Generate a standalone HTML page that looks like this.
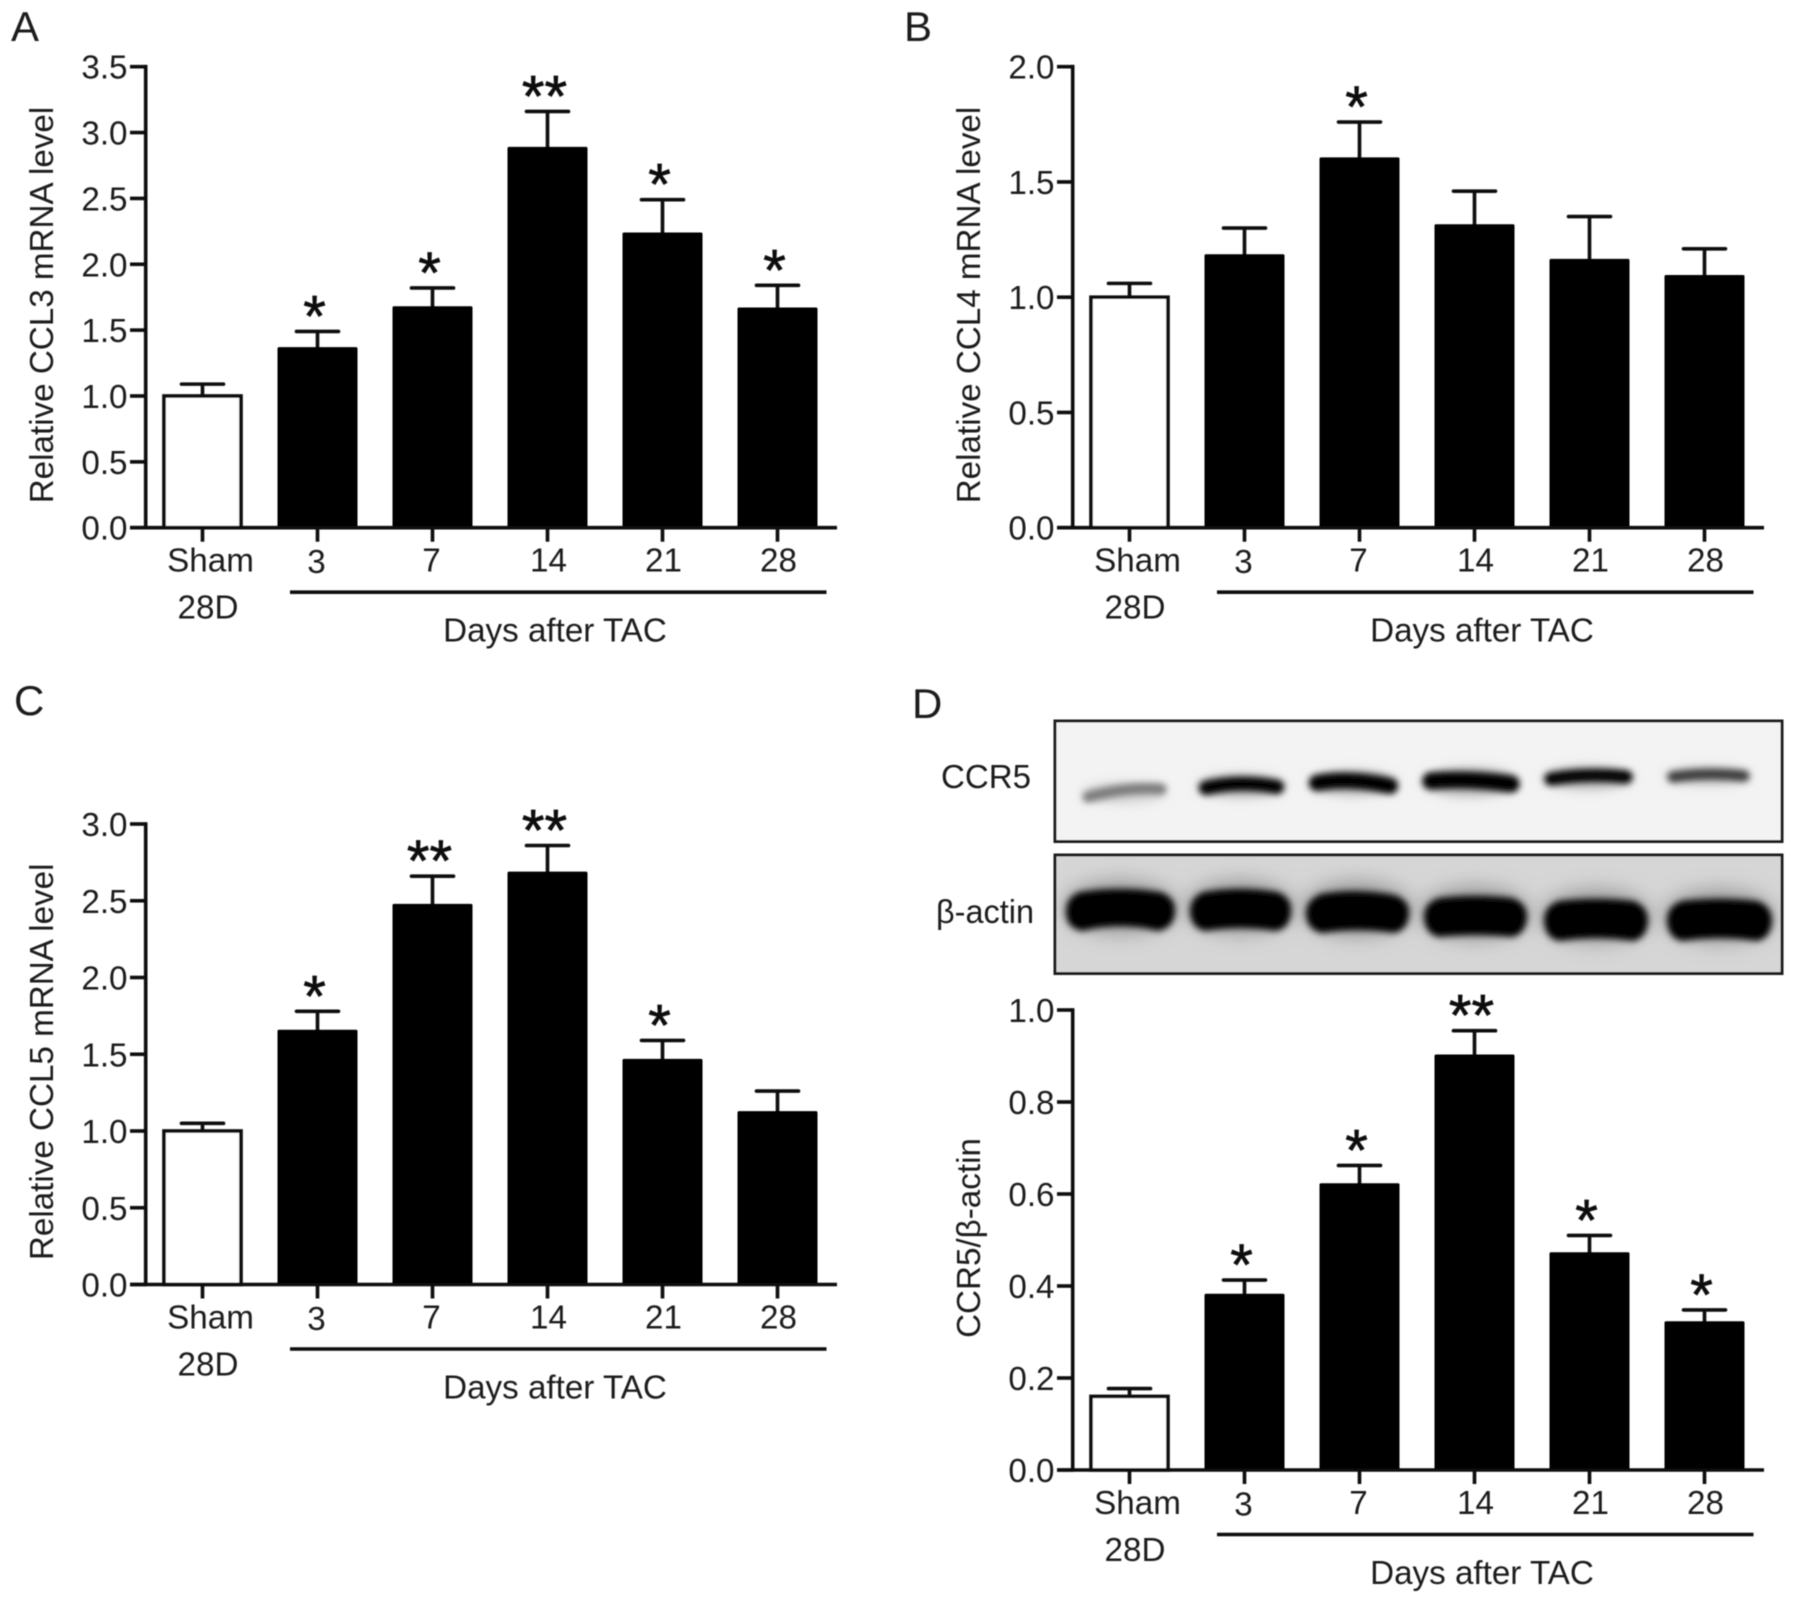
<!DOCTYPE html>
<html lang="en">
<head>
<meta charset="utf-8">
<title>CCL3, CCL4, CCL5 and CCR5 expression after TAC</title>
<style>
  html, body { margin: 0; padding: 0; background: #fff; }
  svg { display: block; }
  text { font-family: "Liberation Sans", "DejaVu Sans", sans-serif; fill: #1c1c1c; }
</style>
</head>
<body>
<svg id="figure" xmlns="http://www.w3.org/2000/svg" width="1795" height="1604" viewBox="0 0 1795 1604">
  <defs>
    <filter id="soft" x="-5%" y="-5%" width="110%" height="110%"><feGaussianBlur stdDeviation="0.55"/></filter>
    <filter id="b3" x="-30%" y="-100%" width="160%" height="300%"><feGaussianBlur stdDeviation="3.4"/></filter>
    <filter id="b4" x="-30%" y="-100%" width="160%" height="300%"><feGaussianBlur stdDeviation="5"/></filter>
    <filter id="b12" x="-30%" y="-100%" width="160%" height="300%"><feGaussianBlur stdDeviation="11"/></filter>
    <clipPath id="clip-ccr5"><rect x="1056" y="722" width="725" height="119"/></clipPath>
    <clipPath id="clip-actin"><rect x="1056" y="856" width="725" height="117"/></clipPath>
  </defs>
  <rect x="0" y="0" width="1795" height="1604" fill="#fff"/>
  <g id="root" filter="url(#soft)">
    <g>
      <rect x="1055" y="721" width="727" height="120.5" fill="#f3f3f3" stroke="#1a1a1a" stroke-width="3"/>
      <g clip-path="url(#clip-ccr5)">
        <g filter="url(#b4)" fill="#bbb">
          <ellipse cx="1124" cy="793" rx="42" ry="11" fill="#d5d5d5"/>
          <ellipse cx="1241" cy="786" rx="44" ry="12"/>
          <ellipse cx="1353" cy="783" rx="44" ry="13"/>
          <ellipse cx="1470" cy="782" rx="48" ry="15"/>
          <ellipse cx="1588" cy="778" rx="45" ry="12"/>
          <ellipse cx="1708" cy="776" rx="43" ry="10" fill="#ccc"/>
        </g>
        <g filter="url(#b3)">
          <path d="M1088 797 Q1125 787 1161 789" fill="none" stroke="#7a7a7a" stroke-width="11" stroke-linecap="round"/>
          <path d="M1206 788 Q1240 780 1277 787" fill="none" stroke="#000" stroke-width="14" stroke-linecap="round"/>
          <path d="M1317 783 Q1350 777 1390 786" fill="none" stroke="#000" stroke-width="16" stroke-linecap="round"/>
          <path d="M1431 781 Q1470 778 1511 784" fill="none" stroke="#000" stroke-width="17" stroke-linecap="round"/>
          <path d="M1551 779 Q1588 773 1626 777" fill="none" stroke="#050505" stroke-width="13" stroke-linecap="round"/>
          <path d="M1673 777 Q1708 772 1744 776" fill="none" stroke="#3a3a3a" stroke-width="11" stroke-linecap="round"/>
        </g>
      </g>
    </g>
    <g>
      <rect x="1055" y="855" width="727" height="118.5" fill="#d6d6d6" stroke="#1a1a1a" stroke-width="3"/>
      <g clip-path="url(#clip-actin)">
        <g filter="url(#b12)" fill="#8a8a8a">
          <ellipse cx="1120" cy="907" rx="55" ry="24"/>
          <ellipse cx="1240" cy="907" rx="52" ry="24"/>
          <ellipse cx="1357" cy="909" rx="53" ry="25"/>
          <ellipse cx="1475" cy="913" rx="53" ry="24"/>
          <ellipse cx="1596" cy="916" rx="53" ry="24"/>
          <ellipse cx="1719" cy="916" rx="54" ry="24"/>
        </g>
        <g filter="url(#b3)" fill="#000">
          <path d="M1080 892 Q1120 886 1160 892 Q1176 897 1175 912 Q1174 928 1158 931 Q1120 921 1082 931 Q1066 928 1066 912 Q1066 897 1080 892Z"/>
          <path d="M1204 892 Q1240 886 1277 892 Q1292 897 1291 912 Q1290 928 1276 931 Q1240 925 1205 931 Q1191 928 1190 912 Q1190 897 1204 892Z"/>
          <path d="M1321 894 Q1357 888 1394 895 Q1410 900 1409 914 Q1408 930 1394 933 Q1357 927 1322 933 Q1307 930 1306 914 Q1306 900 1321 894Z"/>
          <path d="M1439 898 Q1475 894 1512 898 Q1527 903 1527 917 Q1526 934 1512 937 Q1475 933 1439 937 Q1425 934 1424 917 Q1424 903 1439 898Z"/>
          <path d="M1559 901 Q1596 897 1633 901 Q1648 906 1648 921 Q1647 938 1633 941 Q1596 935 1559 941 Q1545 938 1544 921 Q1544 906 1559 901Z"/>
          <path d="M1682 901 Q1719 897 1757 901 Q1772 906 1772 921 Q1771 938 1757 941 Q1719 935 1682 941 Q1668 938 1667 921 Q1667 906 1682 901Z"/>
        </g>
      </g>
    </g>
    <text x="941" y="788" font-size="33" textLength="90" lengthAdjust="spacingAndGlyphs">CCR5</text>
    <text x="936" y="923" font-size="33" textLength="98" lengthAdjust="spacingAndGlyphs">β-actin</text>
    <text x="11" y="41" font-size="42">A</text>
    <text x="904" y="41" font-size="42">B</text>
    <text x="14" y="715" font-size="42">C</text>
    <text x="912" y="718" font-size="42">D</text>
  </g>
</svg>
<script>
const categories = ['Sham', '3', '7', '14', '21', '28'];

const ccl3Values = [1.0, 1.36, 1.67, 2.88, 2.23, 1.66];
const ccl3ErrorTops = [1.09, 1.49, 1.82, 3.16, 2.49, 1.84];
const ccl3Stars = ['', '*', '*', '**', '*', '*'];
const ccl3Ticks = ['0.0', '0.5', '1.0', '1.5', '2.0', '2.5', '3.0', '3.5'];

const ccl4Values = [1.0, 1.18, 1.60, 1.31, 1.16, 1.09];
const ccl4ErrorTops = [1.06, 1.30, 1.76, 1.46, 1.35, 1.21];
const ccl4Stars = ['', '', '*', '', '', ''];
const ccl4Ticks = ['0.0', '0.5', '1.0', '1.5', '2.0'];

const ccl5Values = [1.0, 1.65, 2.47, 2.68, 1.46, 1.12];
const ccl5ErrorTops = [1.05, 1.78, 2.66, 2.86, 1.59, 1.26];
const ccl5Stars = ['', '*', '**', '**', '*', ''];
const ccl5Ticks = ['0.0', '0.5', '1.0', '1.5', '2.0', '2.5', '3.0'];

const ccr5Values = [0.16, 0.38, 0.62, 0.90, 0.47, 0.32];
const ccr5ErrorTops = [0.177, 0.413, 0.662, 0.955, 0.51, 0.348];
const ccr5Stars = ['', '*', '*', '**', '*', '*'];
const ccr5Ticks = ['0.0', '0.2', '0.4', '0.6', '0.8', '1.0'];

const NS = 'http://www.w3.org/2000/svg';
const root = document.getElementById('root');

function make(tag, attrs, parent) {
  const el = document.createElementNS(NS, tag);
  for (const k in attrs) el.setAttribute(k, attrs[k]);
  parent.appendChild(el);
  return el;
}

function drawPanel(id, originX, baseY, plotHeight, yTitle, titleCenterOffset, values, errorTops, stars, ticks) {
  const g = make('g', {}, root);
  
  

  const yMax = parseFloat(ticks[ticks.length - 1]);
  const yScale = v => baseY - (v / yMax) * plotHeight;
  const axisX = originX + 145.7;
  const xScale = i => originX + 202.5 + i * 115;
  const sw = 3.6;
  const fontSize = 33.2;

  values.forEach((v, i) => {
    const cx = xScale(i);
    const top = yScale(v);
    const errTop = yScale(errorTops[i]);

    const stem = make('line', { x1: cx, x2: cx, y1: top, y2: errTop, stroke: '#0a0a0a', 'stroke-width': sw }, g);
    
    
    const cap = make('line', { x1: cx - 21, x2: cx + 21, y1: errTop, y2: errTop, stroke: '#0a0a0a', 'stroke-width': sw, 'stroke-linecap': 'round' }, g);
    
    

    const bar = i === 0
      ? make('rect', { x: cx - 38.5, y: top, width: 77, height: baseY - top, fill: '#fff', stroke: '#0a0a0a', 'stroke-width': sw }, g)
      : make('rect', { x: cx - 40, y: top - 1.5, width: 80, height: baseY - top + 1.5, rx: 1.5, fill: '#000' }, g);
    
    

    if (stars[i]) {
      const s = make('text', { x: cx - 3, y: errTop + 5, 'font-size': 58, 'text-anchor': 'middle', style: 'fill:#0a0a0a;stroke:#0a0a0a;stroke-width:0.7' }, g);
      
      
      s.textContent = stars[i];
    }

    const xt = make('line', { x1: cx, x2: cx, y1: baseY, y2: baseY + 14, stroke: '#0a0a0a', 'stroke-width': sw }, g);
    
    

    const labelShift = i === 0 ? 8 : (i >= 3 ? 1 : -1);
    const lab = make('text', { x: cx + labelShift, y: baseY + (i === 1 ? 45.5 : 44), 'font-size': fontSize, 'text-anchor': 'middle' }, g);
    
    
    lab.textContent = categories[i];
  });

  ticks.forEach(t => {
    const y = yScale(parseFloat(t));
    const tk = make('line', { x1: originX + 130, x2: axisX, y1: y, y2: y, stroke: '#0a0a0a', 'stroke-width': sw }, g);
    
    
    const lab = make('text', { x: originX + 127.5, y: y + 12, 'font-size': fontSize, 'text-anchor': 'end' }, g);
    
    
    lab.textContent = t;
  });

  const yAxis = make('line', { x1: axisX, x2: axisX, y1: baseY - plotHeight - 1.8, y2: baseY + 1.8, stroke: '#0a0a0a', 'stroke-width': sw }, g);
  
  
  const xAxis = make('line', { x1: originX + 130, x2: originX + 837, y1: baseY, y2: baseY, stroke: '#0a0a0a', 'stroke-width': sw }, g);
  
  

  const tx = originX + 53;
  const ty = baseY - titleCenterOffset;
  const title = make('text', { x: tx, y: ty, 'font-size': fontSize, 'text-anchor': 'middle', transform: 'rotate(-90 ' + tx + ' ' + ty + ')' }, g);
  
  
  title.textContent = yTitle;

  const sub = make('text', { x: originX + 208, y: baseY + 91, 'font-size': fontSize, 'text-anchor': 'middle' }, g);
  
  
  sub.textContent = '28D';

  const rule = make('line', { x1: originX + 290, x2: originX + 826.5, y1: baseY + 64.5, y2: baseY + 64.5, stroke: '#0a0a0a', 'stroke-width': sw }, g);
  
  

  const days = make('text', { x: originX + 555, y: baseY + 114, 'font-size': fontSize, 'text-anchor': 'middle' }, g);
  
  
  days.textContent = 'Days after TAC';
}

drawPanel('ccl3', 0, 527.7, 461, 'Relative CCL3 mRNA level', 222.7, ccl3Values, ccl3ErrorTops, ccl3Stars, ccl3Ticks);
drawPanel('ccl4', 927, 527.7, 461, 'Relative CCL4 mRNA level', 222.7, ccl4Values, ccl4ErrorTops, ccl4Stars, ccl4Ticks);
drawPanel('ccl5', 0, 1284.5, 460.5, 'Relative CCL5 mRNA level', 222.7, ccl5Values, ccl5ErrorTops, ccl5Stars, ccl5Ticks);
drawPanel('ccr5', 927, 1470, 460, 'CCR5/β-actin', 232, ccr5Values, ccr5ErrorTops, ccr5Stars, ccr5Ticks);
</script>
</body>
</html>
